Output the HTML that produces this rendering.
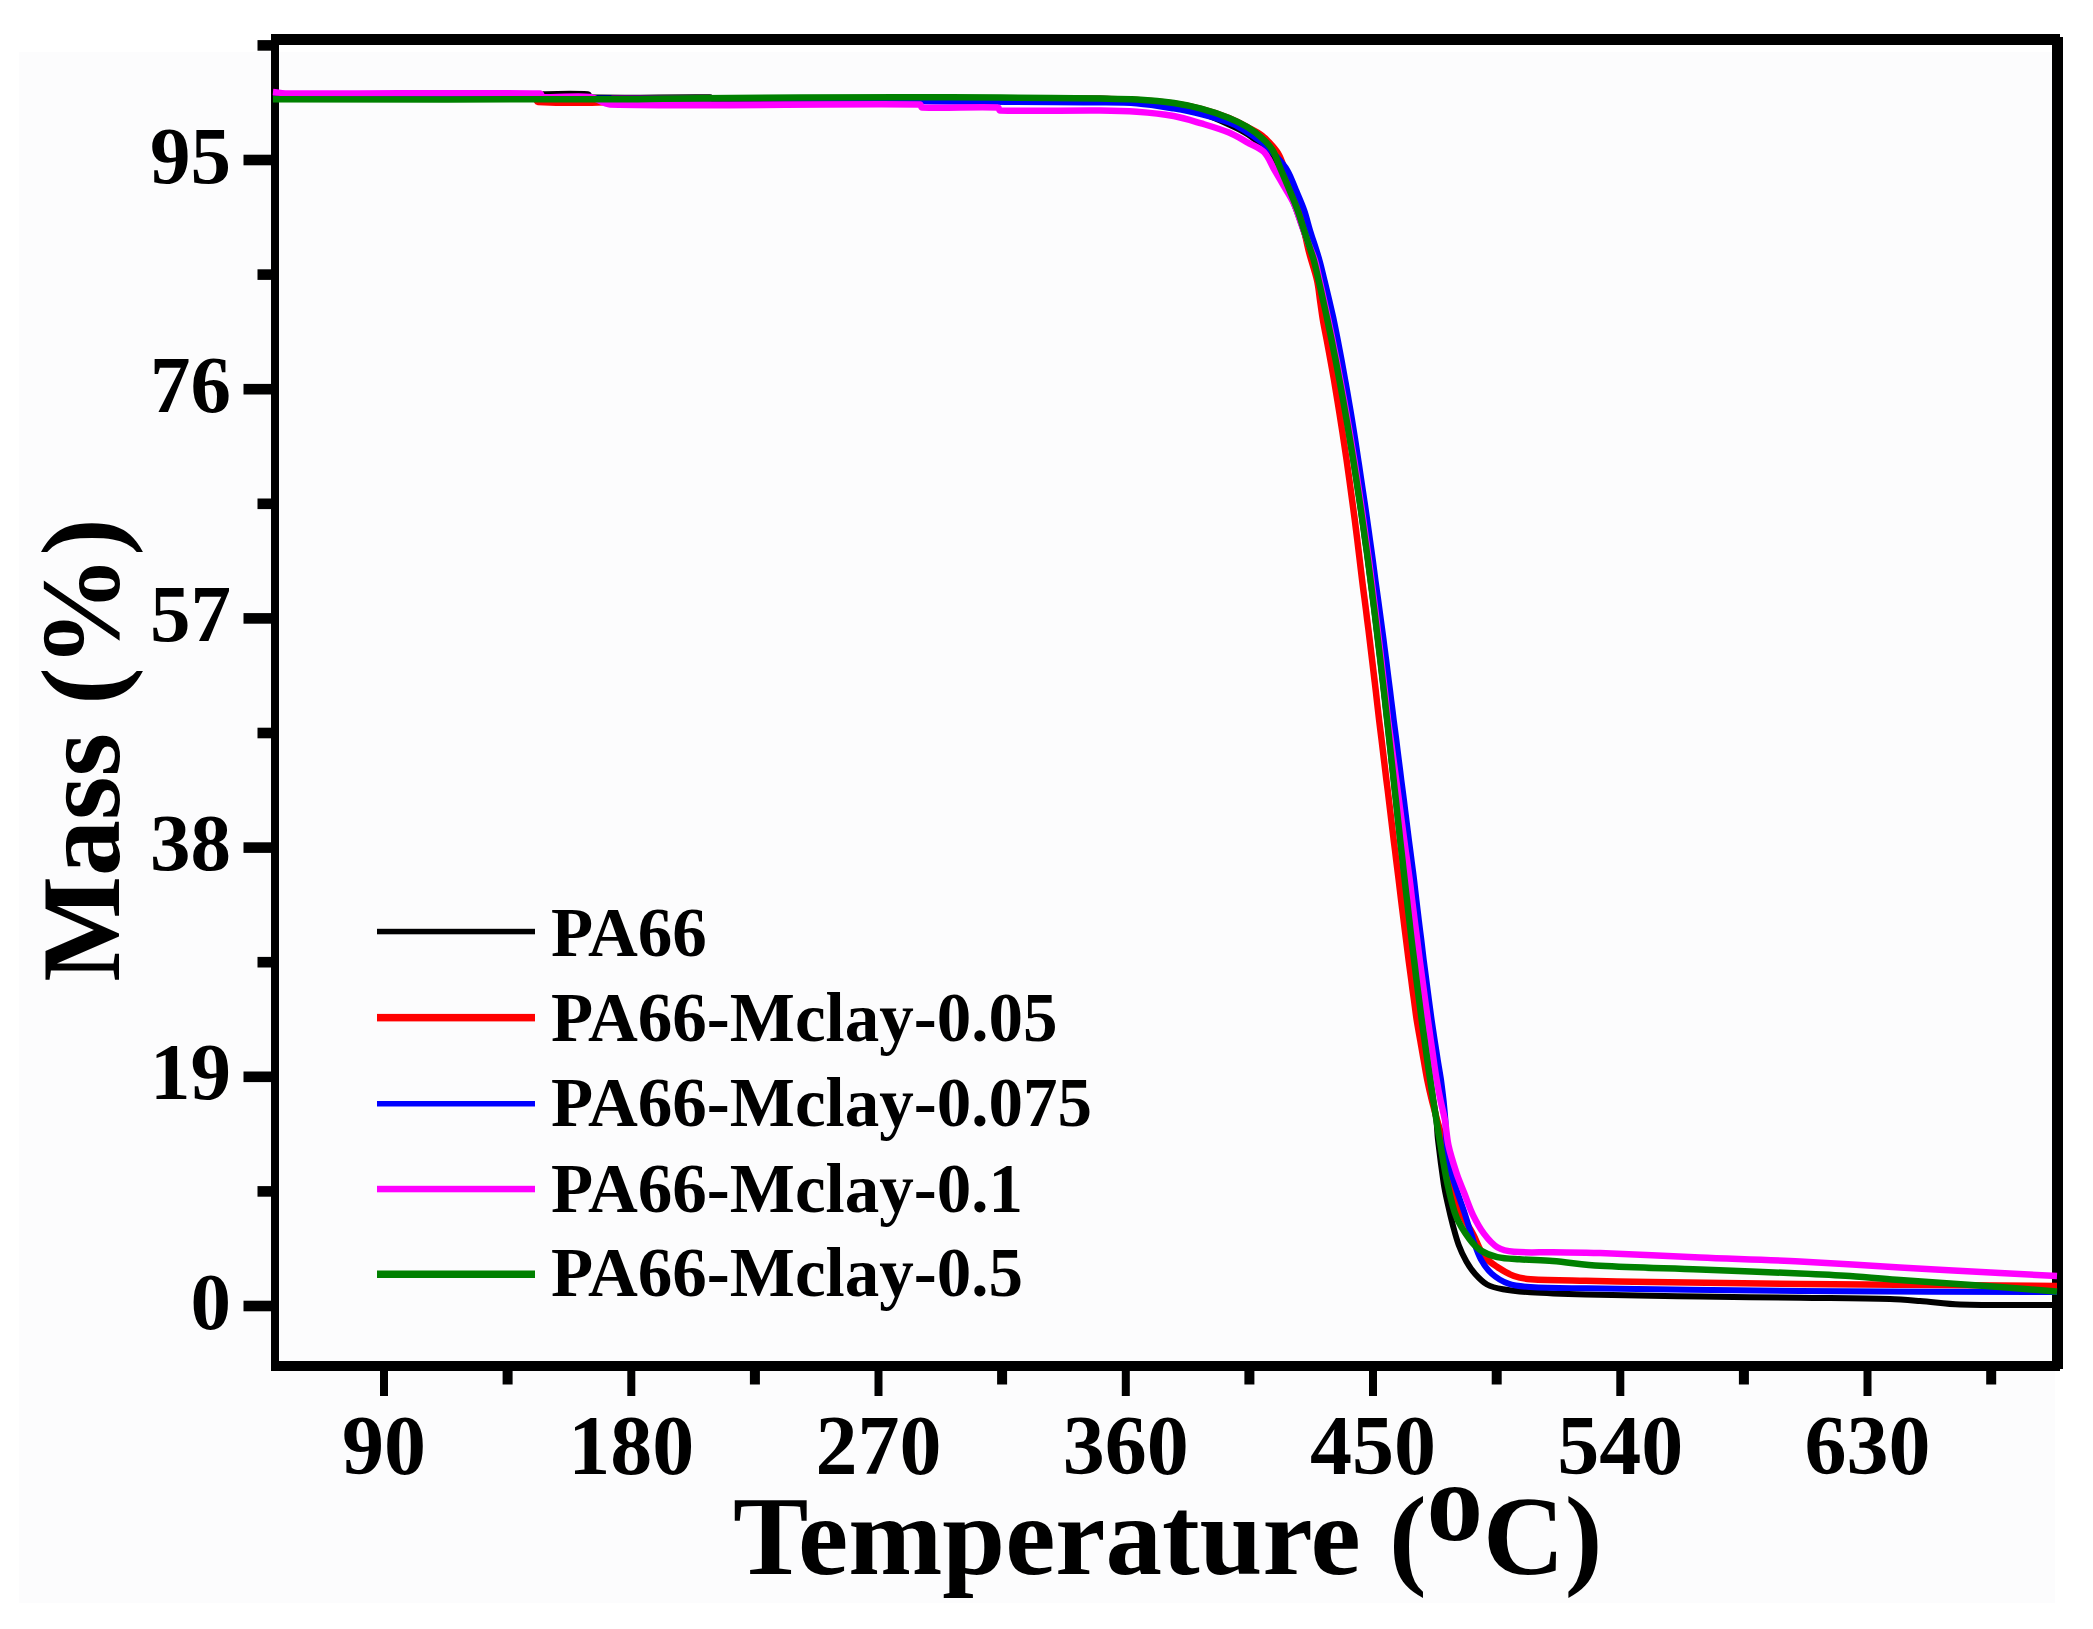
<!DOCTYPE html>
<html><head><meta charset="utf-8"><title>TGA curves</title>
<style>
html,body{margin:0;padding:0;background:#fff;}
body{width:2093px;height:1629px;overflow:hidden;}
svg{display:block;}
text{font-family:"Liberation Serif","Times New Roman",serif;font-weight:bold;fill:#000;}
.yl{font-size:81px;}
.xl{font-size:84px;}
.ax{font-size:113px;}
.ay{font-size:112px;}
.lg{font-size:69px;}
</style></head>
<body>
<svg width="2093" height="1629" viewBox="0 0 2093 1629">
<rect x="0" y="0" width="2093" height="1629" fill="#fff"/>
<rect x="19" y="52" width="2036" height="1551" fill="rgb(252,252,253)"/>
<g fill="#000">
<rect x="271" y="34" width="1789" height="11" />
<rect x="271" y="34" width="8" height="1337" />
<rect x="2052" y="37" width="11" height="1332" />
<rect x="271" y="1361" width="1789" height="10" />
<rect x="243.5" y="1300.7" width="28" height="10.6" />
<rect x="243.5" y="1071.5" width="28" height="10.6" />
<rect x="243.5" y="842.3" width="28" height="10.6" />
<rect x="243.5" y="613.1" width="28" height="10.6" />
<rect x="243.5" y="383.9" width="28" height="10.6" />
<rect x="243.5" y="154.7" width="28" height="10.6" />
<rect x="257.5" y="1186.1" width="14" height="10.6" />
<rect x="257.5" y="956.9" width="14" height="10.6" />
<rect x="257.5" y="727.7" width="14" height="10.6" />
<rect x="257.5" y="498.5" width="14" height="10.6" />
<rect x="257.5" y="269.3" width="14" height="10.6" />
<rect x="257.5" y="40.1" width="14" height="10.6" />
<rect x="380.0" y="1370" width="8" height="26" />
<rect x="627.3" y="1370" width="8" height="26" />
<rect x="874.5" y="1370" width="8" height="26" />
<rect x="1121.8" y="1370" width="8" height="26" />
<rect x="1369.0" y="1370" width="8" height="26" />
<rect x="1616.3" y="1370" width="8" height="26" />
<rect x="1863.5" y="1370" width="8" height="26" />
<rect x="502.6" y="1370" width="10" height="14.5" />
<rect x="749.9" y="1370" width="10" height="14.5" />
<rect x="997.1" y="1370" width="10" height="14.5" />
<rect x="1244.4" y="1370" width="10" height="14.5" />
<rect x="1491.7" y="1370" width="10" height="14.5" />
<rect x="1738.9" y="1370" width="10" height="14.5" />
<rect x="1986.2" y="1370" width="10" height="14.5" />
</g>
<g>
<text class="yl" x="231" y="1328.5" text-anchor="end">0</text>
<text class="yl" x="231" y="1099.3" text-anchor="end">19</text>
<text class="yl" x="231" y="870.1" text-anchor="end">38</text>
<text class="yl" x="231" y="640.9" text-anchor="end">57</text>
<text class="yl" x="231" y="411.7" text-anchor="end">76</text>
<text class="yl" x="231" y="182.5" text-anchor="end">95</text>
<text class="xl" x="384.0" y="1474" text-anchor="middle">90</text>
<text class="xl" x="631.3" y="1474" text-anchor="middle">180</text>
<text class="xl" x="878.5" y="1474" text-anchor="middle">270</text>
<text class="xl" x="1125.8" y="1474" text-anchor="middle">360</text>
<text class="xl" x="1373.0" y="1474" text-anchor="middle">450</text>
<text class="xl" x="1620.3" y="1474" text-anchor="middle">540</text>
<text class="xl" x="1867.5" y="1474" text-anchor="middle">630</text>
<text class="ay" transform="translate(118.5 750) rotate(-90)" text-anchor="middle">Mass (%)</text>
<text class="ax" x="733" y="1574">Temperature (<tspan dy="-34">o</tspan><tspan dy="34">C)</tspan></text>
<rect x="377" y="928.8" width="158" height="5.5" fill="#000" />
<text class="lg" x="551" y="956">PA66</text>
<rect x="377" y="1013.9" width="158" height="7.5" fill="#f00" />
<text class="lg" x="551" y="1040.5">PA66-Mclay-0.05</text>
<rect x="377" y="1101.0" width="158" height="5.5" fill="#00f" />
<text class="lg" x="551" y="1125.5">PA66-Mclay-0.075</text>
<rect x="377" y="1185.8" width="158" height="6.5" fill="#f0f" />
<text class="lg" x="551" y="1211.5">PA66-Mclay-0.1</text>
<rect x="377" y="1270.5" width="158" height="7.5" fill="#008000" />
<text class="lg" x="551" y="1295.5">PA66-Mclay-0.5</text>
</g>
<g>
<path d="M273.0,95.5 C362.0,95.5 451.1,95.9 540.0,95.5 C541.1,95.5 541.9,94.3 543.0,94.3 C557.9,93.9 573.4,93.4 588.0,94.3 C589.4,94.4 589.6,97.3 591.0,97.3 C630.3,98.3 670.4,96.9 710.0,97.3 C710.8,97.3 711.2,98.5 712.0,98.5 C841.2,98.9 970.7,97.7 1100.0,98.5 C1112.4,98.6 1124.7,99.8 1137.0,101.0 C1149.4,102.3 1161.8,103.7 1174.0,106.0 C1183.1,107.7 1192.2,110.0 1201.0,113.0 C1210.5,116.2 1219.7,120.3 1228.9,124.5 C1235.2,127.3 1241.5,130.3 1247.3,134.0 C1252.5,137.3 1257.2,141.5 1262.0,145.5 C1264.8,147.8 1267.9,150.1 1270.0,153.0 C1273.5,157.9 1276.3,163.5 1279.0,169.0 C1282.3,175.5 1285.1,182.3 1288.0,189.0 C1290.8,195.6 1293.5,202.3 1296.0,209.0 C1298.5,215.6 1300.7,222.3 1303.0,229.0 C1305.4,236.0 1307.7,243.0 1310.0,250.0 C1313.2,260.0 1316.8,269.9 1319.5,280.0 C1321.3,286.6 1322.2,293.3 1323.5,300.0 C1324.9,306.7 1326.1,313.3 1327.4,320.0 C1328.7,326.7 1330.2,333.3 1331.6,340.0 C1332.9,346.7 1334.2,353.3 1335.6,360.0 C1336.9,366.7 1338.1,373.3 1339.4,380.0 C1340.6,386.7 1341.9,393.3 1343.1,400.0 C1344.3,406.7 1345.4,413.3 1346.6,420.0 C1347.8,426.7 1348.9,433.3 1350.0,440.0 C1351.1,446.7 1352.2,453.3 1353.3,460.0 C1354.3,466.7 1355.4,473.3 1356.4,480.0 C1357.4,486.7 1358.4,493.3 1359.4,500.0 C1360.4,506.7 1361.4,513.3 1362.3,520.0 C1363.3,526.7 1364.2,533.3 1365.1,540.0 C1366.1,546.7 1367.0,553.3 1367.9,560.0 C1368.8,566.7 1369.6,573.3 1370.5,580.0 C1371.4,586.7 1372.2,593.3 1373.0,600.0 C1373.9,606.7 1374.7,613.3 1375.5,620.0 C1376.3,626.7 1377.1,633.3 1377.9,640.0 C1378.7,646.7 1379.5,653.3 1380.3,660.0 C1381.1,666.7 1381.8,673.3 1382.6,680.0 C1383.4,686.7 1384.1,693.3 1384.9,700.0 C1385.6,706.7 1386.4,713.3 1387.1,720.0 C1387.9,726.7 1388.6,733.3 1389.3,740.0 C1390.1,746.7 1390.8,753.3 1391.5,760.0 C1392.2,766.7 1393.0,773.3 1393.7,780.0 C1394.4,786.7 1395.1,793.3 1395.9,800.0 C1396.6,806.7 1397.3,813.3 1398.0,820.0 C1398.8,826.7 1399.5,833.3 1400.2,840.0 C1401.0,846.7 1401.7,853.3 1402.5,860.0 C1403.2,866.7 1403.9,873.3 1404.7,880.0 C1405.4,886.7 1406.2,893.3 1407.0,900.0 C1407.7,906.7 1408.5,913.3 1409.3,920.0 C1410.1,926.7 1410.8,933.3 1411.6,940.0 C1412.4,946.7 1413.2,953.3 1414.1,960.0 C1414.9,966.7 1415.7,973.3 1416.5,980.0 C1417.4,986.7 1418.2,993.3 1419.1,1000.0 C1420.0,1006.7 1420.8,1013.3 1421.7,1020.0 C1422.6,1026.7 1423.5,1033.3 1424.5,1040.0 C1425.4,1046.7 1426.3,1053.3 1427.3,1060.0 C1428.2,1066.7 1429.2,1073.3 1430.2,1080.0 C1431.2,1086.7 1432.2,1093.3 1433.2,1100.0 C1434.3,1106.7 1435.6,1113.3 1436.4,1120.0 C1437.2,1126.6 1437.2,1133.4 1438.0,1140.0 C1439.7,1154.8 1441.6,1169.5 1443.8,1184.2 C1444.8,1190.5 1446.2,1196.8 1447.6,1203.0 C1449.3,1210.8 1451.1,1218.5 1453.1,1226.2 C1454.8,1232.5 1456.4,1238.9 1458.7,1245.0 C1460.8,1250.7 1463.4,1256.2 1466.4,1261.5 C1468.9,1265.9 1471.8,1270.2 1475.2,1274.0 C1478.7,1277.9 1482.5,1282.0 1487.0,1284.5 C1491.7,1287.1 1497.5,1288.3 1502.9,1289.3 C1512.0,1290.9 1521.3,1291.7 1530.5,1292.3 C1548.9,1293.5 1567.3,1294.0 1585.7,1294.5 C1623.8,1295.4 1661.9,1295.9 1700.0,1296.5 C1733.3,1297.0 1766.7,1297.4 1800.0,1297.8 C1830.0,1298.2 1860.0,1298.2 1890.0,1299.0 C1900.0,1299.3 1910.0,1300.2 1920.0,1301.0 C1933.3,1302.0 1946.6,1304.1 1960.0,1304.5 C1992.3,1305.4 2024.7,1304.8 2057.0,1305.0" fill="none" stroke="#000" stroke-width="6" stroke-linejoin="round" />
<path d="M273.0,98.6 C360.3,98.6 448.2,97.5 535.0,98.6 C536.5,98.6 536.5,101.9 538.0,102.0 C561.5,103.1 586.5,103.1 610.0,102.0 C611.5,101.9 611.5,98.6 613.0,98.6 C774.8,97.6 937.7,98.6 1100.0,99.0 C1112.3,99.0 1124.7,99.3 1137.0,100.0 C1149.4,100.8 1161.7,101.8 1174.0,103.5 C1183.1,104.8 1192.1,106.7 1201.0,109.0 C1210.5,111.5 1219.9,114.5 1229.0,118.0 C1235.3,120.5 1241.3,123.8 1247.3,127.0 C1252.3,129.7 1257.5,132.1 1262.0,135.5 C1265.7,138.3 1268.9,142.0 1272.0,145.5 C1274.6,148.5 1277.2,151.6 1279.0,155.0 C1281.5,159.7 1283.1,165.0 1285.0,170.0 C1287.5,176.6 1289.7,183.3 1292.0,190.0 C1294.2,196.6 1296.5,203.3 1298.5,210.0 C1300.5,216.6 1302.3,223.3 1304.0,230.0 C1305.8,237.3 1307.1,244.7 1309.0,252.0 C1311.4,261.4 1314.8,270.6 1317.0,280.0 C1318.5,286.6 1319.1,293.3 1320.0,300.0 C1321.0,306.7 1321.8,313.4 1322.9,320.0 C1324.0,326.7 1325.5,333.3 1326.7,340.0 C1328.0,346.7 1329.2,353.3 1330.4,360.0 C1331.6,366.7 1332.8,373.3 1334.0,380.0 C1335.1,386.7 1336.2,393.3 1337.3,400.0 C1338.4,406.7 1339.5,413.3 1340.5,420.0 C1341.6,426.7 1342.6,433.3 1343.6,440.0 C1344.6,446.7 1345.6,453.3 1346.6,460.0 C1347.5,466.7 1348.5,473.3 1349.4,480.0 C1350.3,486.7 1351.2,493.3 1352.1,500.0 C1353.0,506.7 1353.9,513.3 1354.8,520.0 C1355.6,526.7 1356.5,533.3 1357.3,540.0 C1358.1,546.7 1358.9,553.3 1359.7,560.0 C1360.5,566.7 1361.3,573.3 1362.1,580.0 C1362.9,586.7 1363.8,593.3 1364.7,600.0 C1365.6,606.7 1366.4,613.3 1367.2,620.0 C1368.1,626.7 1368.9,633.3 1369.7,640.0 C1370.5,646.7 1371.3,653.3 1372.1,660.0 C1372.9,666.7 1373.7,673.3 1374.5,680.0 C1375.3,686.7 1376.1,693.3 1376.8,700.0 C1377.6,706.7 1378.3,713.3 1379.1,720.0 C1379.9,726.7 1380.8,733.3 1381.6,740.0 C1382.4,746.7 1383.2,753.3 1384.0,760.0 C1384.8,766.7 1385.6,773.3 1386.4,780.0 C1387.3,786.7 1388.1,793.3 1388.9,800.0 C1389.7,806.7 1390.5,813.3 1391.3,820.0 C1392.1,826.7 1392.9,833.3 1393.7,840.0 C1394.6,846.7 1395.4,853.3 1396.2,860.0 C1397.0,866.7 1397.9,873.3 1398.7,880.0 C1399.5,886.7 1400.3,893.3 1401.1,900.0 C1401.9,906.7 1402.7,913.3 1403.6,920.0 C1404.4,926.7 1405.2,933.3 1406.1,940.0 C1406.9,946.7 1407.8,953.3 1408.6,960.0 C1409.5,966.7 1410.4,973.3 1411.3,980.0 C1412.1,986.7 1413.0,993.3 1414.0,1000.0 C1414.9,1006.7 1415.7,1013.3 1416.7,1020.0 C1417.8,1026.7 1419.0,1033.3 1420.2,1040.0 C1421.3,1046.7 1422.5,1053.3 1423.7,1060.0 C1424.9,1066.7 1426.0,1073.4 1427.3,1080.0 C1428.7,1086.7 1430.2,1093.4 1431.8,1100.0 C1433.5,1106.7 1435.3,1113.3 1437.1,1120.0 C1438.9,1126.7 1441.1,1133.3 1442.6,1140.0 C1447.0,1159.9 1449.8,1180.4 1455.0,1200.0 C1456.6,1206.0 1460.1,1211.5 1463.0,1217.0 C1466.1,1222.8 1469.9,1228.2 1473.0,1234.0 C1476.9,1241.2 1479.2,1249.5 1484.0,1256.0 C1487.3,1260.5 1492.5,1263.8 1497.3,1267.0 C1502.5,1270.5 1508.1,1273.8 1514.0,1276.0 C1519.2,1277.9 1524.9,1278.8 1530.5,1279.2 C1548.8,1280.4 1567.3,1280.4 1585.7,1280.8 C1607.1,1281.3 1628.6,1281.7 1650.0,1282.0 C1700.0,1282.7 1750.0,1283.5 1800.0,1284.0 C1885.7,1284.8 1971.3,1285.3 2057.0,1286.0" fill="none" stroke="#f00" stroke-width="6.5" stroke-linejoin="round" />
<path d="M273.0,98.6 C474.7,98.6 676.6,97.9 878.0,98.6 C879.2,98.6 879.8,100.8 881.0,100.8 C953.8,102.1 1027.0,101.7 1100.0,102.5 C1112.3,102.6 1124.6,102.5 1136.8,103.5 C1149.2,104.5 1161.5,106.6 1173.7,108.6 C1183.0,110.2 1192.2,112.0 1201.3,114.3 C1210.6,116.6 1219.9,119.2 1228.9,122.5 C1234.0,124.4 1238.9,127.0 1243.6,129.8 C1250.0,133.6 1256.2,137.9 1262.0,142.5 C1266.7,146.3 1270.9,150.6 1275.0,155.0 C1279.3,159.7 1283.9,164.5 1287.2,170.0 C1290.9,176.2 1293.2,183.3 1296.0,190.0 C1298.8,196.6 1301.8,203.2 1304.2,210.0 C1306.5,216.5 1308.0,223.4 1310.0,230.0 C1313.1,240.0 1316.6,249.9 1319.5,260.0 C1321.4,266.6 1322.8,273.3 1324.5,280.0 C1326.1,286.7 1327.7,293.3 1329.3,300.0 C1330.8,306.7 1332.5,313.3 1333.9,320.0 C1335.3,326.6 1336.6,333.3 1337.9,340.0 C1339.2,346.7 1340.4,353.3 1341.7,360.0 C1342.9,366.7 1344.1,373.3 1345.3,380.0 C1346.5,386.7 1347.7,393.3 1348.8,400.0 C1350.0,406.7 1351.1,413.3 1352.2,420.0 C1353.3,426.7 1354.3,433.3 1355.4,440.0 C1356.4,446.7 1357.4,453.3 1358.4,460.0 C1359.5,466.7 1360.4,473.3 1361.4,480.0 C1362.4,486.7 1363.4,493.3 1364.4,500.0 C1365.4,506.7 1366.4,513.3 1367.3,520.0 C1368.3,526.7 1369.2,533.3 1370.1,540.0 C1371.1,546.7 1372.0,553.3 1372.9,560.0 C1373.8,566.7 1374.6,573.3 1375.5,580.0 C1376.4,586.7 1377.4,593.3 1378.3,600.0 C1379.2,606.7 1380.1,613.3 1381.0,620.0 C1381.9,626.7 1382.8,633.3 1383.7,640.0 C1384.5,646.7 1385.4,653.3 1386.3,660.0 C1387.1,666.7 1388.0,673.3 1388.8,680.0 C1389.7,686.7 1390.5,693.3 1391.3,700.0 C1392.2,706.7 1393.0,713.3 1393.8,720.0 C1394.7,726.7 1395.5,733.3 1396.4,740.0 C1397.2,746.7 1398.1,753.3 1398.9,760.0 C1399.8,766.7 1400.6,773.3 1401.4,780.0 C1402.3,786.7 1403.1,793.3 1404.0,800.0 C1404.8,806.7 1405.7,813.3 1406.5,820.0 C1407.3,826.7 1408.2,833.3 1409.0,840.0 C1409.9,846.7 1410.7,853.3 1411.6,860.0 C1412.5,866.7 1413.4,873.3 1414.2,880.0 C1415.0,886.7 1415.7,893.3 1416.5,900.0 C1417.3,906.7 1418.1,913.3 1418.9,920.0 C1419.7,926.7 1420.5,933.3 1421.4,940.0 C1422.2,946.7 1423.0,953.3 1423.8,960.0 C1424.7,966.7 1425.5,973.3 1426.4,980.0 C1427.3,986.7 1428.1,993.3 1429.0,1000.0 C1429.9,1006.7 1430.8,1013.3 1431.7,1020.0 C1432.7,1026.7 1433.7,1033.3 1434.7,1040.0 C1435.8,1046.7 1436.8,1053.3 1437.8,1060.0 C1438.9,1066.7 1440.1,1073.3 1441.1,1080.0 C1442.0,1086.7 1442.8,1093.3 1443.6,1100.0 C1444.3,1106.7 1444.9,1113.3 1445.4,1120.0 C1445.8,1126.7 1445.8,1133.3 1446.3,1140.0 C1446.9,1147.3 1447.6,1154.7 1448.7,1162.0 C1449.2,1165.4 1450.1,1168.7 1451.0,1172.0 C1452.7,1177.9 1454.6,1183.8 1456.5,1189.7 C1459.0,1197.1 1461.7,1204.4 1464.2,1211.8 C1467.2,1221.0 1469.8,1230.3 1473.0,1239.4 C1475.3,1246.1 1477.4,1253.1 1480.8,1259.3 C1483.7,1264.5 1487.3,1269.8 1491.8,1273.7 C1496.5,1277.9 1502.4,1281.5 1508.4,1283.6 C1515.3,1286.0 1523.1,1286.5 1530.5,1287.0 C1548.8,1288.1 1567.3,1288.0 1585.7,1288.3 C1657.1,1289.4 1728.6,1290.4 1800.0,1291.0 C1885.7,1291.7 1971.3,1291.7 2057.0,1292.0" fill="none" stroke="#00f" stroke-width="6" stroke-linejoin="round" />
<path d="M273.0,92.0 C278.7,92.5 284.3,93.5 290.0,93.5 C373.3,94.0 457.2,92.4 540.0,93.5 C541.5,93.5 541.5,96.9 543.0,97.0 C558.2,98.1 574.6,95.3 590.0,97.0 C597.0,97.8 602.9,104.3 610.0,104.5 C712.9,106.8 817.2,103.5 920.0,104.5 C921.2,104.5 920.8,107.5 922.0,107.5 C946.8,108.5 973.2,106.5 998.0,107.5 C999.2,107.5 998.8,110.5 1000.0,110.5 C1032.8,111.5 1066.7,110.2 1100.0,110.5 C1112.3,110.6 1124.6,110.8 1136.8,111.7 C1149.1,112.6 1161.5,113.8 1173.7,116.0 C1183.0,117.7 1192.2,120.7 1201.3,123.4 C1210.6,126.2 1220.0,128.9 1228.9,132.6 C1235.3,135.2 1241.2,138.9 1247.3,142.3 C1252.9,145.4 1259.6,147.6 1264.0,152.0 C1268.5,156.5 1270.7,163.3 1274.0,169.0 C1277.7,175.3 1281.4,181.6 1285.0,188.0 C1288.2,193.6 1291.9,199.1 1294.5,205.0 C1297.5,211.8 1299.5,219.0 1302.0,226.0 C1304.3,232.3 1306.6,238.7 1309.0,245.0 C1310.9,250.0 1313.3,254.9 1314.8,260.0 C1316.8,266.5 1318.0,273.3 1319.5,280.0 C1321.1,286.7 1322.6,293.3 1324.0,300.0 C1325.5,306.7 1327.0,313.3 1328.4,320.0 C1329.8,326.7 1331.2,333.3 1332.6,340.0 C1333.9,346.7 1335.2,353.3 1336.6,360.0 C1337.9,366.7 1339.1,373.3 1340.4,380.0 C1341.6,386.7 1342.9,393.3 1344.1,400.0 C1345.3,406.7 1346.4,413.3 1347.6,420.0 C1348.8,426.7 1349.9,433.3 1351.0,440.0 C1352.1,446.7 1353.2,453.3 1354.3,460.0 C1355.3,466.7 1356.4,473.3 1357.4,480.0 C1358.4,486.7 1359.4,493.3 1360.4,500.0 C1361.4,506.7 1362.4,513.3 1363.3,520.0 C1364.3,526.7 1365.2,533.3 1366.1,540.0 C1367.1,546.7 1368.0,553.3 1368.9,560.0 C1369.8,566.7 1370.6,573.3 1371.5,580.0 C1372.4,586.7 1373.2,593.3 1374.0,600.0 C1374.9,606.7 1375.7,613.3 1376.5,620.0 C1377.3,626.7 1378.1,633.3 1378.9,640.0 C1379.7,646.7 1380.5,653.3 1381.3,660.0 C1382.1,666.7 1382.8,673.3 1383.6,680.0 C1384.4,686.7 1385.1,693.3 1385.9,700.0 C1386.6,706.7 1387.3,713.3 1388.1,720.0 C1388.9,726.7 1389.9,733.3 1390.8,740.0 C1391.7,746.7 1392.6,753.3 1393.5,760.0 C1394.4,766.7 1395.3,773.3 1396.2,780.0 C1397.1,786.7 1398.0,793.3 1398.9,800.0 C1399.8,806.7 1400.7,813.3 1401.5,820.0 C1402.4,826.7 1403.3,833.3 1404.2,840.0 C1405.1,846.7 1406.0,853.3 1407.0,860.0 C1407.9,866.7 1408.8,873.3 1409.7,880.0 C1410.6,886.7 1411.3,893.3 1412.1,900.0 C1413.0,906.7 1413.8,913.3 1414.6,920.0 C1415.5,926.7 1416.3,933.3 1417.2,940.0 C1418.0,946.7 1418.9,953.3 1419.7,960.0 C1420.6,966.7 1421.5,973.3 1422.4,980.0 C1423.3,986.7 1424.2,993.3 1425.1,1000.0 C1426.1,1006.7 1427.0,1013.3 1427.9,1020.0 C1428.9,1026.7 1429.8,1033.3 1430.7,1040.0 C1431.7,1046.7 1432.7,1053.3 1433.6,1060.0 C1434.6,1066.7 1435.5,1073.4 1436.7,1080.0 C1437.8,1086.7 1439.0,1093.4 1440.4,1100.0 C1441.8,1106.7 1443.7,1113.3 1444.9,1120.0 C1446.4,1128.4 1446.7,1137.1 1448.5,1145.5 C1450.5,1154.8 1453.5,1163.9 1456.5,1173.0 C1458.7,1179.8 1461.6,1186.3 1464.2,1193.0 C1467.1,1200.4 1469.5,1208.0 1473.0,1215.1 C1476.2,1221.6 1479.7,1228.1 1484.1,1233.9 C1487.8,1238.8 1492.1,1244.1 1497.3,1247.2 C1502.1,1250.1 1508.2,1251.3 1513.9,1251.8 C1526.7,1253.0 1539.7,1252.1 1552.6,1252.3 C1568.4,1252.5 1584.2,1252.4 1600.0,1253.0 C1633.3,1254.2 1666.7,1256.1 1700.0,1257.5 C1733.3,1258.9 1766.7,1259.8 1800.0,1261.5 C1833.3,1263.2 1866.7,1265.6 1900.0,1267.5 C1933.3,1269.4 1966.7,1271.2 2000.0,1273.0 C2019.0,1274.0 2038.0,1275.0 2057.0,1276.0" fill="none" stroke="#f0f" stroke-width="6.5" stroke-linejoin="round" />
<path d="M273.0,99.3 C388.7,99.3 504.3,99.6 620.0,99.3 C646.7,99.2 673.3,98.4 700.0,98.2 C766.7,97.7 833.3,97.3 900.0,97.2 C933.3,97.1 966.7,97.4 1000.0,97.6 C1033.3,97.8 1066.7,98.1 1100.0,98.6 C1112.3,98.8 1124.7,98.8 1137.0,99.5 C1149.4,100.2 1161.8,101.2 1174.0,103.0 C1183.1,104.3 1192.1,106.3 1201.0,108.7 C1210.5,111.3 1219.9,114.3 1229.0,117.9 C1235.3,120.4 1241.5,123.5 1247.3,127.1 C1252.5,130.3 1257.5,134.0 1262.0,138.1 C1265.9,141.6 1269.8,145.5 1272.5,150.0 C1276.2,156.1 1278.2,163.3 1281.0,170.0 C1283.8,176.7 1286.7,183.3 1289.5,190.0 C1292.2,196.6 1295.1,203.3 1297.5,210.0 C1299.9,216.6 1301.8,223.3 1304.0,230.0 C1306.2,236.7 1308.3,243.3 1310.5,250.0 C1311.6,253.3 1312.9,256.6 1313.8,260.0 C1315.6,266.6 1317.0,273.3 1318.5,280.0 C1320.1,286.7 1321.6,293.3 1323.0,300.0 C1324.5,306.7 1326.0,313.3 1327.4,320.0 C1328.8,326.7 1330.2,333.3 1331.6,340.0 C1332.9,346.7 1334.2,353.3 1335.6,360.0 C1336.9,366.7 1338.1,373.3 1339.4,380.0 C1340.6,386.7 1341.9,393.3 1343.1,400.0 C1344.3,406.7 1345.4,413.3 1346.6,420.0 C1347.8,426.7 1348.9,433.3 1350.0,440.0 C1351.1,446.7 1352.2,453.3 1353.3,460.0 C1354.3,466.7 1355.4,473.3 1356.4,480.0 C1357.4,486.7 1358.4,493.3 1359.4,500.0 C1360.4,506.7 1361.4,513.3 1362.3,520.0 C1363.3,526.7 1364.2,533.3 1365.1,540.0 C1366.1,546.7 1367.0,553.3 1367.9,560.0 C1368.8,566.7 1369.6,573.3 1370.5,580.0 C1371.4,586.7 1372.2,593.3 1373.0,600.0 C1373.9,606.7 1374.7,613.3 1375.5,620.0 C1376.3,626.7 1377.1,633.3 1377.9,640.0 C1378.7,646.7 1379.5,653.3 1380.3,660.0 C1381.1,666.7 1381.8,673.3 1382.6,680.0 C1383.4,686.7 1384.1,693.3 1384.9,700.0 C1385.6,706.7 1386.4,713.3 1387.1,720.0 C1387.9,726.7 1388.6,733.3 1389.3,740.0 C1390.1,746.7 1390.8,753.3 1391.5,760.0 C1392.2,766.7 1393.0,773.3 1393.7,780.0 C1394.4,786.7 1395.1,793.3 1395.9,800.0 C1396.6,806.7 1397.3,813.3 1398.0,820.0 C1398.8,826.7 1399.5,833.3 1400.2,840.0 C1401.0,846.7 1401.7,853.3 1402.5,860.0 C1403.2,866.7 1403.9,873.3 1404.7,880.0 C1405.4,886.7 1406.2,893.3 1407.0,900.0 C1407.7,906.7 1408.5,913.3 1409.3,920.0 C1410.1,926.7 1410.8,933.3 1411.6,940.0 C1412.4,946.7 1413.2,953.3 1414.1,960.0 C1414.9,966.7 1415.7,973.3 1416.5,980.0 C1417.4,986.7 1418.2,993.3 1419.1,1000.0 C1420.0,1006.7 1420.8,1013.3 1421.7,1020.0 C1422.6,1026.7 1423.5,1033.3 1424.5,1040.0 C1425.4,1046.7 1426.3,1053.3 1427.3,1060.0 C1428.2,1066.7 1429.2,1073.3 1430.2,1080.0 C1431.2,1086.7 1432.2,1093.3 1433.2,1100.0 C1434.3,1106.7 1435.3,1113.3 1436.4,1120.0 C1437.4,1126.7 1438.5,1133.3 1439.6,1140.0 C1442.2,1154.7 1444.4,1169.6 1447.6,1184.2 C1450.0,1195.4 1452.3,1206.8 1456.5,1217.3 C1459.7,1225.2 1464.7,1232.5 1469.7,1239.4 C1472.8,1243.6 1476.5,1247.7 1480.8,1250.5 C1485.7,1253.6 1491.6,1255.8 1497.3,1257.1 C1504.4,1258.7 1512.0,1258.8 1519.4,1259.3 C1530.5,1260.1 1541.6,1260.1 1552.6,1261.0 C1568.4,1262.3 1584.2,1264.9 1600.0,1265.8 C1633.3,1267.7 1666.7,1268.2 1700.0,1269.5 C1733.3,1270.8 1766.7,1272.1 1800.0,1273.5 C1816.7,1274.2 1833.3,1274.9 1850.0,1276.0 C1866.7,1277.1 1883.3,1278.7 1900.0,1280.0 C1916.7,1281.2 1933.3,1282.3 1950.0,1283.5 C1966.7,1284.7 1983.3,1285.8 2000.0,1287.0 C2016.7,1288.3 2033.3,1289.7 2050.0,1291.0 C2052.3,1291.2 2054.7,1291.3 2057.0,1291.5" fill="none" stroke="#008000" stroke-width="6.5" stroke-linejoin="round" />
</g>
</svg>
</body></html>
